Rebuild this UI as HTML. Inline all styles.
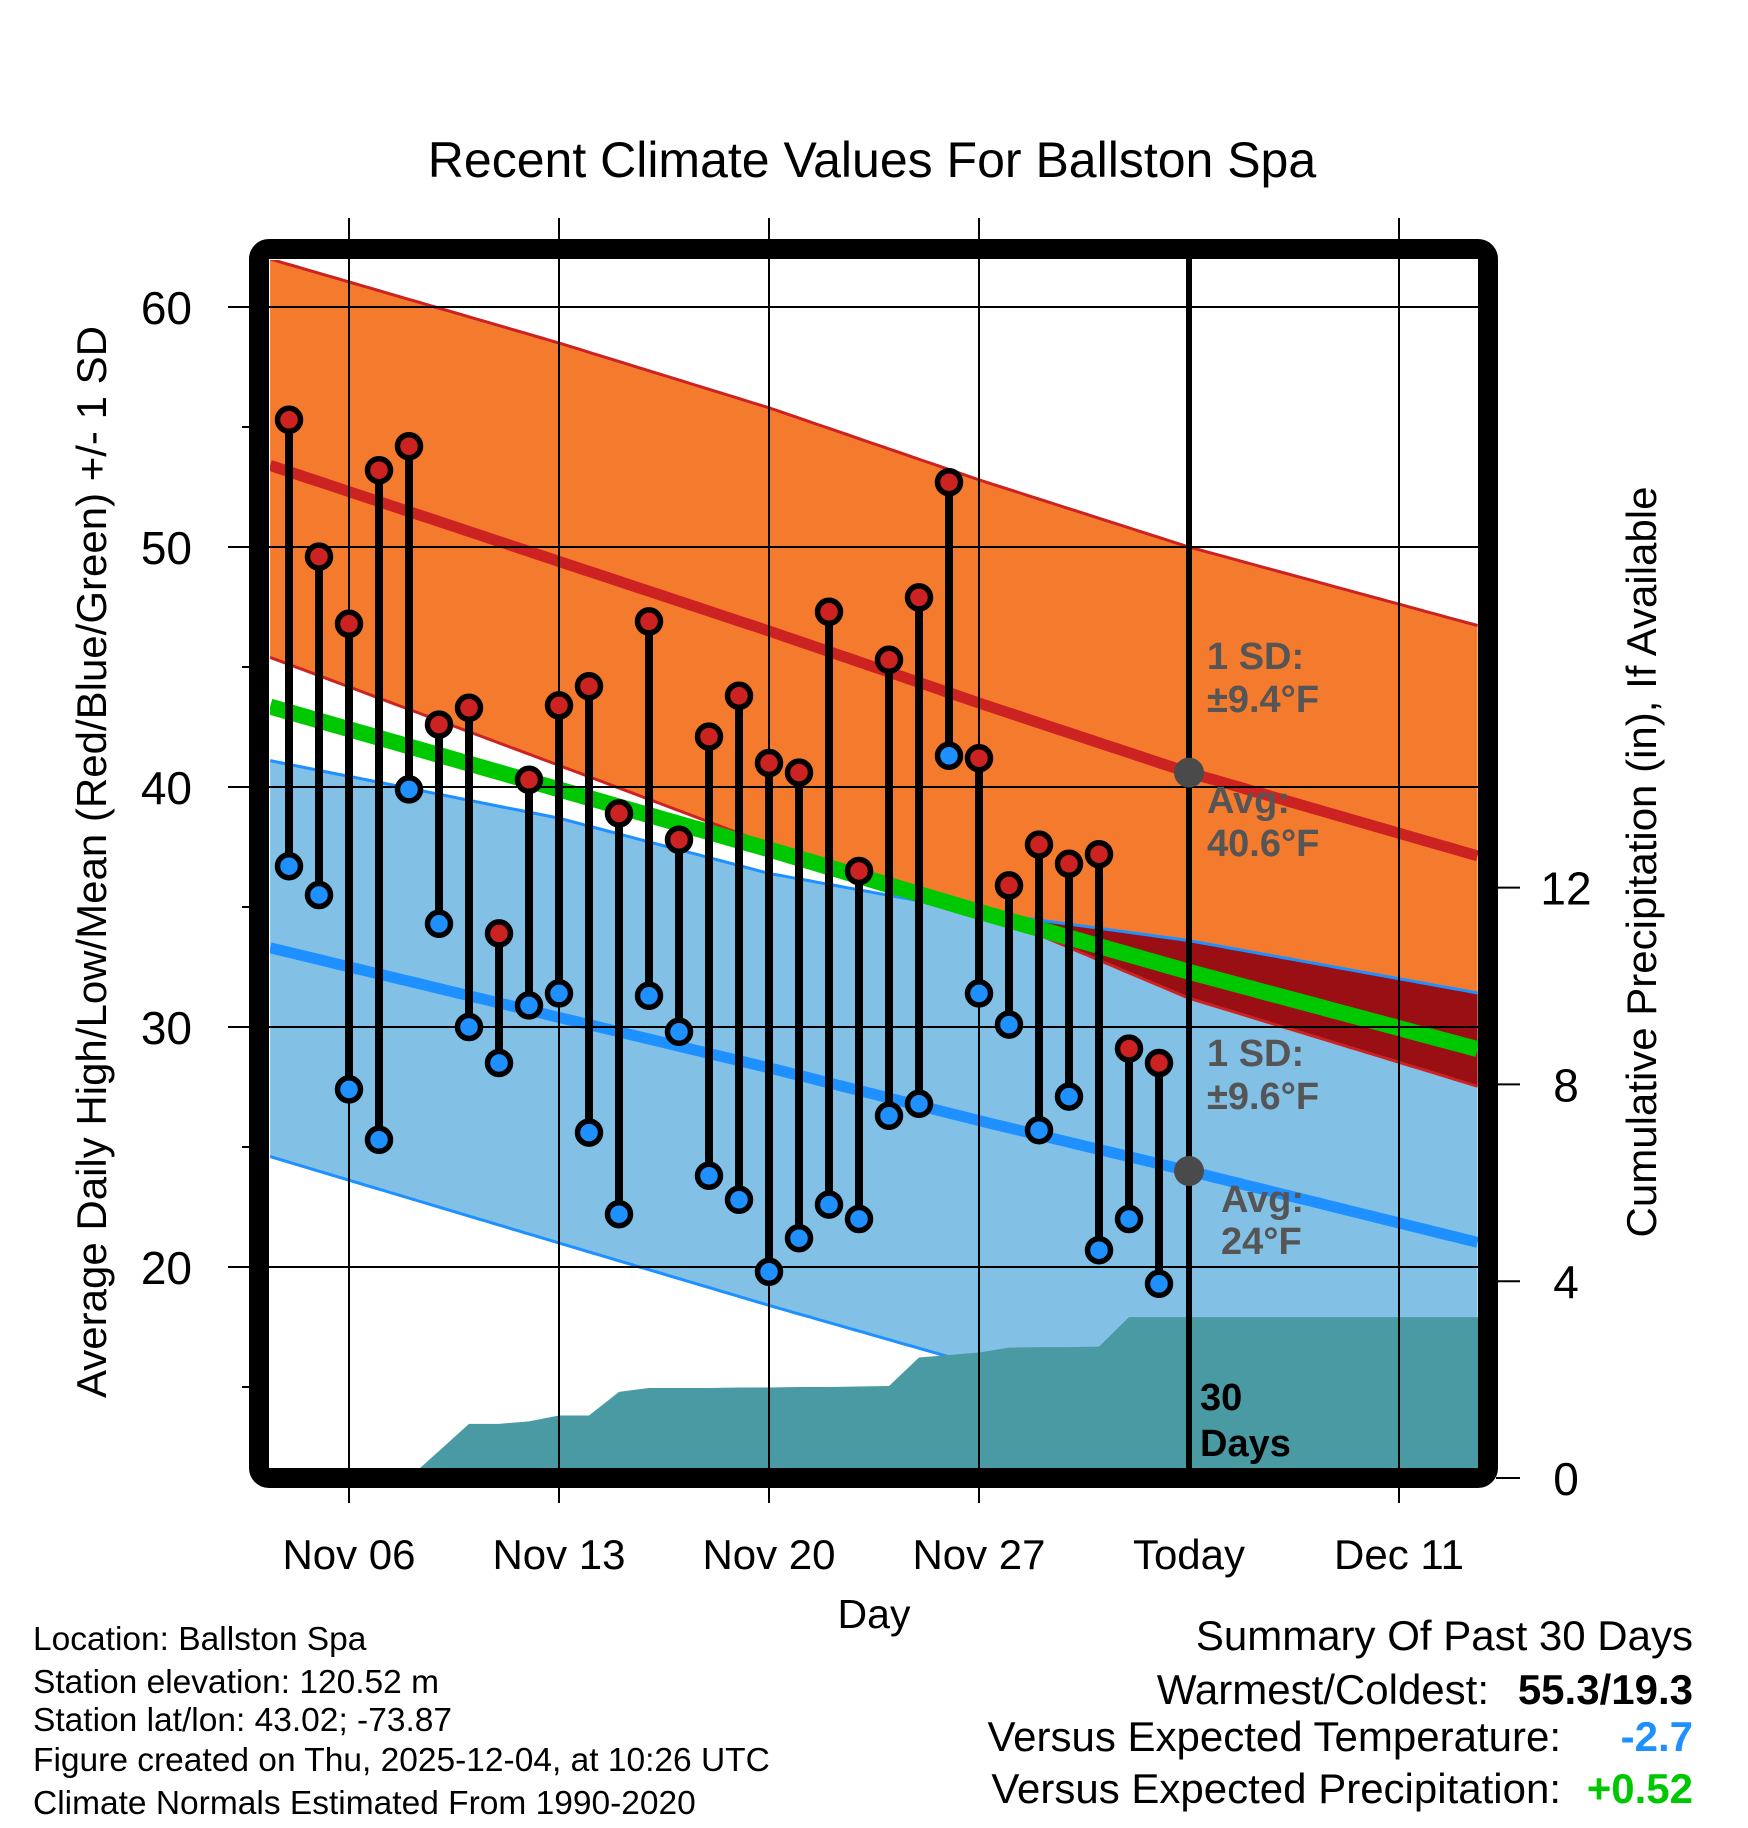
<!DOCTYPE html>
<html><head><meta charset="utf-8">
<style>
html,body{margin:0;padding:0;background:#fff;}
svg{display:block;font-family:"Liberation Sans",sans-serif;}
</style></head>
<body>
<svg id="chart" width="1748" height="1828" viewBox="0 0 1748 1828" xmlns="http://www.w3.org/2000/svg">
<defs><clipPath id="plotclip"><rect x="270" y="260" width="1208" height="1208"/></clipPath></defs>
<text x="872" y="177" font-size="50" text-anchor="middle">Recent Climate Values For Ballston Spa</text>
<g id="bands" clip-path="url(#plotclip)"></g>
<g id="grid"></g>
<g id="marks"></g>
<g id="annot"></g>
<rect x="259" y="249" width="1229" height="1229" rx="10" fill="none" stroke="#000" stroke-width="20"/>
<g id="axes"></g>
<text x="874" y="1628" font-size="41" text-anchor="middle">Day</text>
<text transform="translate(106,862) rotate(-90)" font-size="42" text-anchor="middle">Average Daily High/Low/Mean (Red/Blue/Green) +/- 1 SD</text>
<text transform="translate(1656,862) rotate(-90)" font-size="42" text-anchor="middle">Cumulative Precipitation (in), If Available</text>
<g font-size="33.5">
<text x="33" y="1650">Location: Ballston Spa</text>
<text x="33" y="1693">Station elevation: 120.52 m</text>
<text x="33" y="1731">Station lat/lon: 43.02; -73.87</text>
<text x="33" y="1771">Figure created on Thu, 2025-12-04, at 10:26 UTC</text>
<text x="33" y="1814">Climate Normals Estimated From 1990-2020</text>
</g>
<g font-size="42">
<text x="1693" y="1650" text-anchor="end">Summary Of Past 30 Days</text>
<text x="1489" y="1704" text-anchor="end">Warmest/Coldest:</text>
<text x="1693" y="1704" text-anchor="end" font-weight="bold">55.3/19.3</text>
<text x="1561" y="1751" text-anchor="end">Versus Expected Temperature:</text>
<text x="1693" y="1751" text-anchor="end" font-weight="bold" fill="#1e90ff">-2.7</text>
<text x="1561" y="1803" text-anchor="end">Versus Expected Precipitation:</text>
<text x="1693" y="1803" text-anchor="end" font-weight="bold" fill="#00c800">+0.52</text>
</g>
</svg>
<script>
// days are offsets from Nov 06
const dayOffsets = [-2,-1,0,1,2,3,4,5,6,7,8,9,10,11,12,13,14,15,16,17,18,19,20,21,22,23,24,25,26,27];
const highs = [55.3,49.6,46.8,53.2,54.2,42.6,43.3,33.9,40.3,43.4,44.2,38.9,46.9,37.8,42.1,43.8,41.0,40.6,47.3,36.5,45.3,47.9,52.7,41.2,35.9,37.6,36.8,37.2,29.1,28.5];
const lows = [36.7,35.5,27.4,25.3,39.9,34.3,30.0,28.5,30.9,31.4,25.6,22.2,31.3,29.8,23.8,22.8,19.8,21.2,22.6,22.0,26.3,26.8,41.3,31.4,30.1,25.7,27.1,20.7,22.0,19.3];
const precip = [0,0,0,0,0,0.55,1.1,1.1,1.15,1.27,1.27,1.75,1.83,1.83,1.83,1.84,1.84,1.85,1.85,1.86,1.87,2.45,2.5,2.55,2.65,2.66,2.66,2.67,3.27,3.27];
const normDays = [-2.63,7,14,21,28,37.7];
const highUpper = [62.0,58.5,55.8,52.8,50.0,46.7];
const highAvg = [53.4,49.4,46.5,43.5,40.6,37.1];
const highLower = [45.4,40.9,37.6,34.9,31.2,27.5];
const lowUpper = [41.1,38.7,36.4,34.8,33.6,31.4];
const lowAvg = [33.3,30.4,28.3,26.1,24.0,21.0];
const lowLower = [24.6,21.0,18.4,15.9,13.3,9.7];
const xTicks = [0,7,14,21,28,35];
const xTickLabels = ["Nov 06","Nov 13","Nov 20","Nov 27","Today","Dec 11"];
const yTicks = [20,30,40,50,60];
const yMinor = [15,25,35,45,55];
const y2Ticks = [0,4,8,12];
const todayOffset = 28;

const NS="http://www.w3.org/2000/svg";
const X = d => 349 + 30*d;
const Y = v => 307 + (60 - v)*24;
const YP = p => 1478 - p*49.2;
function mk(tag, attrs, parent){const e=document.createElementNS(NS,tag);for(const k in attrs)e.setAttribute(k,attrs[k]);parent.appendChild(e);return e;}
function interp(arr,d){for(let i=0;i<normDays.length-1;i++){if(d<=normDays[i+1]||i==normDays.length-2){const t=(d-normDays[i])/(normDays[i+1]-normDays[i]);return arr[i]+t*(arr[i+1]-arr[i]);}}}
const samples=[];for(let d=normDays[0];d<=normDays[normDays.length-1]+0.001;d+=0.25)samples.push(d);
function linePts(arr){return samples.map(d=>X(d).toFixed(1)+","+Y(interp(arr,d)).toFixed(1)).join(" ");}
function bandPts(a,b){return samples.map(d=>X(d).toFixed(1)+","+Y(interp(a,d)).toFixed(1)).concat(samples.slice().reverse().map(d=>X(d).toFixed(1)+","+Y(interp(b,d)).toFixed(1))).join(" ");}

const bands=document.getElementById('bands');
let e;
e=mk('polygon',{points:bandPts(highUpper,highLower),fill:'#f47a2e'},bands);


e=mk('polygon',{points:bandPts(lowUpper,lowLower),fill:'#82c0e6'},bands);


const ovTop=samples.map(d=>{const t=interp(lowUpper,d),b=interp(highLower,d);return [d,t,Math.min(b,t)];});
const ovPts=ovTop.map(o=>X(o[0]).toFixed(1)+","+Y(o[1]).toFixed(1)).concat(ovTop.slice().reverse().map(o=>X(o[0]).toFixed(1)+","+Y(o[2]).toFixed(1))).join(" ");
e=mk('polygon',{points:ovPts,fill:'#990f14'},bands);


[[highUpper,'#cc2222'],[highLower,'#cc2222'],[lowUpper,'#1e90ff'],[lowLower,'#1e90ff']].forEach(([a,c])=>{
  const l=mk('polyline',{points:linePts(a),fill:'none',stroke:c,'stroke-width':3},bands);
  
  
});
e=mk('polyline',{points:linePts(highAvg),fill:'none',stroke:'#cc2222','stroke-width':11},bands);


e=mk('polyline',{points:linePts(lowAvg),fill:'none',stroke:'#1e90ff','stroke-width':11},bands);


const meanArr=highAvg.map((v,i)=>(v+lowAvg[i])/2);
e=mk('polyline',{points:linePts(meanArr),fill:'none',stroke:'#00c800','stroke-width':16},bands);


let pp=[X(dayOffsets[0])+","+1470];
dayOffsets.forEach((d,i)=>pp.push(X(d)+","+YP(precip[i])));
pp.push("1480,"+YP(precip[precip.length-1]));pp.push("1480,1470");
e=mk('polygon',{points:pp.join(" "),fill:'#4a9aa3'},bands);



const grid=document.getElementById('grid');
yTicks.forEach(v=>{
  const g=mk('line',{x1:228,x2:1478,y1:Y(v),y2:Y(v),stroke:'#000','stroke-width':2},grid);
  
  
});
xTicks.forEach(d=>{
  if(d===todayOffset)return;
  const g=mk('line',{x1:X(d),x2:X(d),y1:218,y2:1503,stroke:'#000','stroke-width':2},grid);
  
  
});
e=mk('line',{x1:X(todayOffset),x2:X(todayOffset),y1:255,y2:1475,stroke:'#000','stroke-width':6},grid);



const marks=document.getElementById('marks');
dayOffsets.forEach((d,i)=>{
  const s=mk('line',{x1:X(d),x2:X(d),y1:Y(highs[i]),y2:Y(lows[i]),stroke:'#000','stroke-width':8},marks);
  
  
});
dayOffsets.forEach((d,i)=>{
  const h=mk('circle',{cx:X(d),cy:Y(highs[i]),r:11.5,fill:'#cc2222',stroke:'#000','stroke-width':5.5},marks);
  
  
  const l=mk('circle',{cx:X(d),cy:Y(lows[i]),r:11.5,fill:'#1e90ff',stroke:'#000','stroke-width':5.5},marks);
  
  
});

const an=document.getElementById('annot');
e=mk('circle',{cx:X(todayOffset),cy:Y(interp(highAvg,todayOffset)),r:15,fill:'#4a4a4a'},an);


e=mk('circle',{cx:X(todayOffset),cy:Y(interp(lowAvg,todayOffset)),r:15,fill:'#4a4a4a'},an);


const labels=[[1207,669,'1 SD:','#555'],[1207,712,'±9.4°F','#555'],[1207,813,'Avg:','#555'],[1207,856,'40.6°F','#555'],
[1207,1066,'1 SD:','#555'],[1207,1109,'±9.6°F','#555'],[1221,1212,'Avg:','#555'],[1221,1254,'24°F','#555'],
[1200,1410,'30','#000'],[1200,1456,'Days','#000']];
labels.forEach(([x,y,t,c])=>{
  const tx=mk('text',{x:x,y:y,'font-size':38,'font-weight':'bold',fill:c},an);
  tx.textContent=t;
  
  
});

const ax=document.getElementById('axes');
yTicks.forEach(v=>{
  const t=mk('text',{x:192,y:Y(v)+17,'font-size':46,'text-anchor':'end'},ax);
  t.textContent=v;
  
  
});
yMinor.forEach(v=>{
  const t=mk('line',{x1:242,x2:252,y1:Y(v),y2:Y(v),stroke:'#000','stroke-width':2},ax);
  
  
});
y2Ticks.forEach(p=>{
  const l=mk('line',{x1:1496,x2:1520,y1:YP(p),y2:YP(p),stroke:'#000','stroke-width':2},ax);
  
  
  const t=mk('text',{x:1566,y:YP(p)+17,'font-size':46,'text-anchor':'middle'},ax);
  t.textContent=p;
  
  
});
xTicks.forEach((d,i)=>{
  const t=mk('text',{x:X(d),y:1569,'font-size':42,'text-anchor':'middle'},ax);
  t.textContent=xTickLabels[i];
  
  
});
</script>
</body></html>
